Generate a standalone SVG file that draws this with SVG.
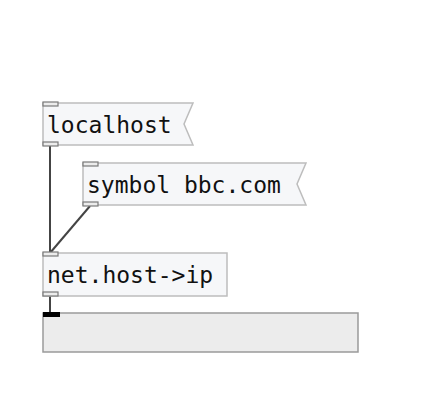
<svg xmlns="http://www.w3.org/2000/svg" width="440" height="417" viewBox="0 0 440 417">
<style>
.box{fill:#f6f7f9;stroke:#bdbdbd;stroke-width:1.5}
.io{fill:#ececec;stroke:#7a7a7a;stroke-width:1.2}
.txt{font-family:"DejaVu Sans Mono",monospace;font-size:23px;fill:#111}
.cord{stroke:#444;stroke-width:2;fill:none}
</style>
<rect width="440" height="417" fill="#fff"/>
<g id="connectors">
<line class="cord" x1="50" y1="146" x2="50" y2="253"/>
<line class="cord" x1="90" y1="206" x2="50" y2="253"/>
<line class="cord" x1="50" y1="296" x2="50" y2="313"/>
</g>
<g id="msg-localhost">
<path class="box" d="M43,103 H193 L184,124 L193,145 H43 Z"/>
<rect class="io" x="43" y="102" width="15" height="4"/>
<rect class="io" x="43" y="142" width="15" height="4"/>
<text class="txt" x="47" y="133">localhost</text>
</g>
<g id="msg-symbol">
<path class="box" d="M83,163 H306 L297,184 L306,205 H83 Z"/>
<rect class="io" x="83" y="162" width="15" height="4"/>
<rect class="io" x="83" y="202" width="15" height="4"/>
<text class="txt" x="87" y="193">symbol bbc.com</text>
</g>
<g id="obj-host">
<rect class="box" x="43" y="253" width="184" height="43"/>
<rect class="io" x="43" y="252" width="15" height="4"/>
<rect class="io" x="43" y="292" width="15" height="4"/>
<text class="txt" x="47" y="283">net.host-&gt;ip</text>
</g>
<g id="atom">
<rect x="43" y="313" width="315" height="39" fill="#ececec" stroke="#9a9a9a" stroke-width="1.5"/>
<rect x="43" y="312" width="17" height="5" fill="#000"/>
</g>
</svg>
